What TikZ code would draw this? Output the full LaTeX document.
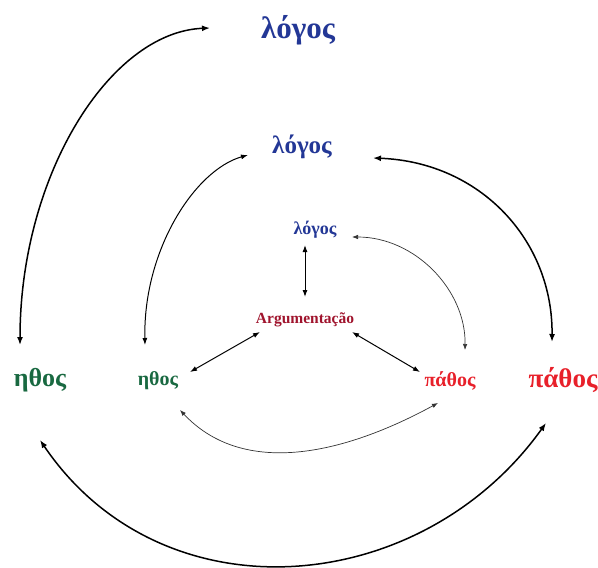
\documentclass[tikz,border=0pt]{standalone}
\usepackage{fontspec}
\setmainfont{Liberation Serif}
\usetikzlibrary{arrows.meta,calc}
\definecolor{lblue}{RGB}{35,55,150}
\definecolor{lgreen}{RGB}{25,105,65}
\definecolor{lred}{RGB}{232,32,42}
\definecolor{ared}{RGB}{160,20,45}
\tikzset{
  lbl/.style={inner sep=1pt, font=\bfseries},
  con/.style={{Latex[length=8pt,width=6pt]}-{Latex[length=8pt,width=6pt]}, line width=1.5pt},
  conm/.style={{Latex[length=7pt,width=5pt]}-{Latex[length=7pt,width=5pt]}, line width=1pt},
  conf/.style={{Latex[length=6pt,width=4.5pt]}-{Latex[length=6pt,width=4.5pt]}, line width=0.7pt, draw=black!80},
}
\begin{document}
\begin{tikzpicture}[x=1pt,y=-1pt]
\useasboundingbox (0,0) rectangle (598,568);
\fill[white] (0,0) rectangle (598,568);
% nodes
\node[lbl, text=lblue, font=\bfseries\fontsize{31}{32}\selectfont] (lo1) at (298,30) {λόγος};
\node[lbl, text=lblue, font=\bfseries\fontsize{25}{26}\selectfont] (lo2) at (302,147) {λόγος};
\node[lbl, text=lblue, font=\bfseries\fontsize{18}{19}\selectfont] (lo3) at (315,230) {λόγος};
\node[lbl, text=ared, font=\bfseries\fontsize{15.5}{16}\selectfont] (arg) at (305,320) {Argumentação};
\node[lbl, text=lgreen, font=\bfseries\fontsize{26}{27}\selectfont] (et1) at (40,380) {ηθος};
\node[lbl, text=lgreen, font=\bfseries\fontsize{20}{21}\selectfont] (et2) at (158,381) {ηθος};
\node[lbl, text=lred, font=\bfseries\fontsize{20}{21}\selectfont] (pa2) at (450,381) {πάθος};
\node[lbl, text=lred, font=\bfseries\fontsize{27}{28}\selectfont] (pa1) at (563,380) {πάθος};
% connectors
\draw[con] ($(lo1)+(-88,-2)$) .. controls +(-100,4) and +(0,-170) .. ($(et1)+(-20,-35)$);
\draw[conm] ($(lo2)+(-54,8)$) .. controls +(-53,15) and +(-2,-95) .. ($(et2)+(-13,-36)$);
\draw[con] ($(lo2)+(71,11)$) .. controls +(107,4) and +(1,-102) .. ($(pa1)+(-11,-38)$);
\draw[conf] ($(lo3)+(37,7)$) .. controls +(63,0) and +(1,-60) .. ($(pa2)+(15,-31)$);
\draw[conm] ($(lo3)+(-10,15)$) -- ($(arg)+(0,-23)$);
\draw[conm] ($(arg)+(-45,12)$) -- ($(et2)+(32,-9)$);
\draw[conm] ($(arg)+(47,12)$) -- ($(pa2)+(-30,-9)$);
\draw[conf] ($(et2)+(22,29)$) .. controls +(60,64) and +(-103,56) .. ($(pa2)+(-12,22)$);
\draw[con] ($(et1)+(0,60)$) .. controls +(122,180) and +(-126,176) .. ($(pa1)+(-17,43)$);
\end{tikzpicture}
\end{document}
